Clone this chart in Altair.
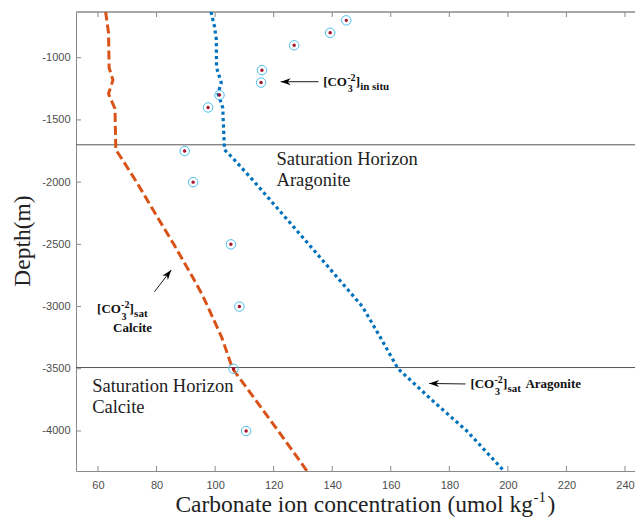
import altair as alt
import pandas as pd

# ---------------- data ----------------
insitu_depth = [-700, -800, -900, -1100, -1200, -1300, -1400, -1750, -2000, -2500, -3000, -3500, -4000]
insitu_co3 = [144.8, 139.3, 127.0, 116.0, 115.7, 101.5, 97.6, 89.6, 92.5, 105.4, 108.3, 106.3, 110.6]

calcite_depth = [-630, -800, -1080, -1180, -1290, -1410, -1740, -1800, -2000, -2250, -2500,
                 -2750, -2900, -3000, -3250, -3500, -3750, -4000, -4322]
calcite_co3 = [62.6, 63.6, 63.8, 65.1, 63.6, 65.8, 66.1, 67.8, 73.2, 79.5, 85.9,
               92.0, 95.5, 97.5, 102.3, 106.0, 113.8, 121.6, 131.4]

aragonite_depth = [-630, -750, -850, -1080, -1200, -1290, -1400, -1740, -1800, -2000, -2500,
                   -2800, -3000, -3250, -3500, -3750, -4000, -4322]
aragonite_co3 = [98.6, 99.8, 100.4, 100.5, 102.1, 101.0, 102.6, 103.2, 105.8, 113.5, 132.0,
                 143.0, 150.3, 156.5, 162.5, 174.0, 186.0, 198.7]

horizon_depth = [-1700, -3490]

x_ticks = [60, 80, 100, 120, 140, 160, 180, 200, 220, 240]
y_ticks = [-4000, -3500, -3000, -2500, -2000, -1500, -1000]

# ---------------- layout ----------------
W, H = 559, 459
XS = alt.Scale(domain=[52.49, 243.42], nice=False, zero=False)
YS = alt.Scale(domain=[-4321.5, -632.7], nice=False, zero=False)
SERIF = "Liberation Serif"
SANS = "Liberation Sans"
AXC = "#8a8a8a"

x_axis = alt.Axis(values=x_ticks, ticks=False, tickSize=0, grid=False, domainColor=AXC,
                  labelFont=SANS, labelFontSize=11, labelColor="#4d4d4d", labelPadding=8,
                  title=None)
y_axis = alt.Axis(values=y_ticks, ticks=False, tickSize=0, grid=False, domainColor=AXC,
                  labelFont=SANS, labelFontSize=11, labelColor="#4d4d4d", labelPadding=6,
                  labelExpr="'' + datum.value", title=None)


def X(field="x"):
    return alt.X(f"{field}:Q", scale=XS, axis=x_axis)


def Y(field="y"):
    return alt.Y(f"{field}:Q", scale=YS, axis=y_axis)


calc_df = pd.DataFrame({"x": calcite_co3, "y": calcite_depth, "i": range(len(calcite_co3))})
arag_df = pd.DataFrame({"x": aragonite_co3, "y": aragonite_depth, "i": range(len(aragonite_co3))})
insitu_df = pd.DataFrame({"x": insitu_co3, "y": insitu_depth})
hz_df = pd.DataFrame({"y": horizon_depth})
xt_df = pd.DataFrame({"x": x_ticks})
yt_df = pd.DataFrame({"y": y_ticks})

layers = []

# horizon lines
layers.append(alt.Chart(hz_df).mark_rule(color="#555555", strokeWidth=1).encode(
    y=Y(), x=alt.value(0), x2=alt.value(W)))

# top border
layers.append(alt.Chart(hz_df).mark_rule(color=AXC, strokeWidth=1).encode(
    y=alt.value(0), x=alt.value(0), x2=alt.value(W)))

# inward ticks
layers.append(alt.Chart(xt_df).mark_rule(color=AXC, strokeWidth=1).encode(
    x=X(), y=alt.value(H), y2=alt.value(H - 5)))
layers.append(alt.Chart(xt_df).mark_rule(color=AXC, strokeWidth=1).encode(
    x=X(), y=alt.value(0), y2=alt.value(5)))
layers.append(alt.Chart(yt_df).mark_rule(color=AXC, strokeWidth=1).encode(
    y=Y(), x=alt.value(0), x2=alt.value(5)))

# saturation curves
layers.append(alt.Chart(calc_df).mark_line(color="#D95319", strokeWidth=3, strokeDash=[9, 4],
                                           clip=True).encode(
    x=X(), y=Y(), order="i:Q"))
layers.append(alt.Chart(arag_df).mark_line(color="#0072BD", strokeWidth=3.2, strokeDash=[3.2, 3.2],
                                           clip=True).encode(
    x=X(), y=Y(), order="i:Q"))

# in situ points
layers.append(alt.Chart(insitu_df).mark_point(shape="circle", filled=False, stroke="#4DBEEE",
                                              strokeWidth=1, size=90, opacity=1).encode(x=X(), y=Y()))
layers.append(alt.Chart(insitu_df).mark_point(shape="circle", filled=True, color="#A2142F",
                                              size=12, opacity=1).encode(x=X(), y=Y()))

# ---------------- arrows ----------------
arrows = [
    # (tail x, tail y, tip x, tip y, head angle)
    (135.3, -1193, 122.4, -1193, 270),
    (79.3, -2881, 85.0, -2706, 37.6),
    (185.5, -3622, 173.1, -3618, 270),
]
HEAD = "M0,0L0.7,2L0,1.4L-0.7,2Z"
for tx, ty, hx, hy, ang in arrows:
    d = pd.DataFrame({"x": [tx], "y": [ty], "x2": [hx], "y2": [hy]})
    layers.append(alt.Chart(d).mark_rule(color="#1a1a1a", strokeWidth=1).encode(
        x=X(), y=Y(), x2="x2:Q", y2="y2:Q"))
    layers.append(alt.Chart(d).mark_point(shape=HEAD, filled=True, color="black", size=100,
                                          opacity=1, angle=ang).encode(x=X("x2"), y=Y("y2")))

# ---------------- annotation text ----------------


def txt(x, y, s, size, weight="normal", ddx=0, ddy=0, color="#111111"):
    d = pd.DataFrame({"x": [x], "y": [y], "t": [s]})
    return alt.Chart(d).mark_text(align="left", baseline="alphabetic", font=SERIF,
                                  fontSize=size, fontWeight=weight, dx=ddx, dy=ddy,
                                  color=color).encode(x=X(), y=Y(), text="t:N")


def co3_label(x, y, sub):
    return [
        txt(x, y, "[CO", 13, "bold"),
        txt(x, y, "3", 10, "bold", 24.5, 6.5),
        txt(x, y, "-2", 10, "bold", 24, -5),
        txt(x, y, "]", 13, "bold", 32.5),
        txt(x, y, sub, 11, "bold", 37, 4),
    ]


layers += co3_label(136.9, -1227, "in situ")
layers += co3_label(59.7, -3052, "sat")
layers.append(txt(59.7, -3052, "Calcite", 13, "bold", 16, 19))
layers += co3_label(187.2, -3657, "sat")
layers.append(txt(187.2, -3657, "Aragonite", 13, "bold", 55, 0))

layers.append(txt(121.0, -1862, "Saturation Horizon", 18.5, color="#222222"))
layers.append(txt(121.0, -1862, "Aragonite", 18.5, ddy=21.5, color="#222222"))
layers.append(txt(58.0, -3687, "Saturation Horizon", 18.5, color="#222222"))
layers.append(txt(58.0, -3687, "Calcite", 18.5, ddy=21, color="#222222"))

# ---------------- axis titles ----------------
tdf = pd.DataFrame({"t": ["Carbonate ion concentration (umol kg"]})
layers.append(alt.Chart(tdf).mark_text(align="right", baseline="alphabetic", font=SERIF,
                                       fontSize=23.5, color="#222222").encode(
    x=alt.value(457), y=alt.value(500), text="t:N"))
layers.append(alt.Chart(pd.DataFrame({"t": ["-1"]})).mark_text(
    align="left", baseline="alphabetic", font=SERIF, fontSize=15, color="#222222").encode(
    x=alt.value(457.5), y=alt.value(490), text="t:N"))
layers.append(alt.Chart(pd.DataFrame({"t": [")"]})).mark_text(
    align="left", baseline="alphabetic", font=SERIF, fontSize=23.5, color="#222222").encode(
    x=alt.value(471.5), y=alt.value(500), text="t:N"))
layers.append(alt.Chart(pd.DataFrame({"t": ["Depth(m)"]})).mark_text(
    align="center", baseline="alphabetic", font=SERIF, fontSize=23.5, angle=270,
    color="#222222").encode(x=alt.value(-46), y=alt.value(229), text="t:N"))

chart = alt.layer(*layers).properties(
    width=W, height=H,
    autosize=alt.AutoSizeParams(type="none"),
    padding={"left": 68, "top": 4, "right": 0, "bottom": 46},
).configure_view(stroke=None)

chart.save("out.html", embed_options={"renderer": "svg", "actions": False})
